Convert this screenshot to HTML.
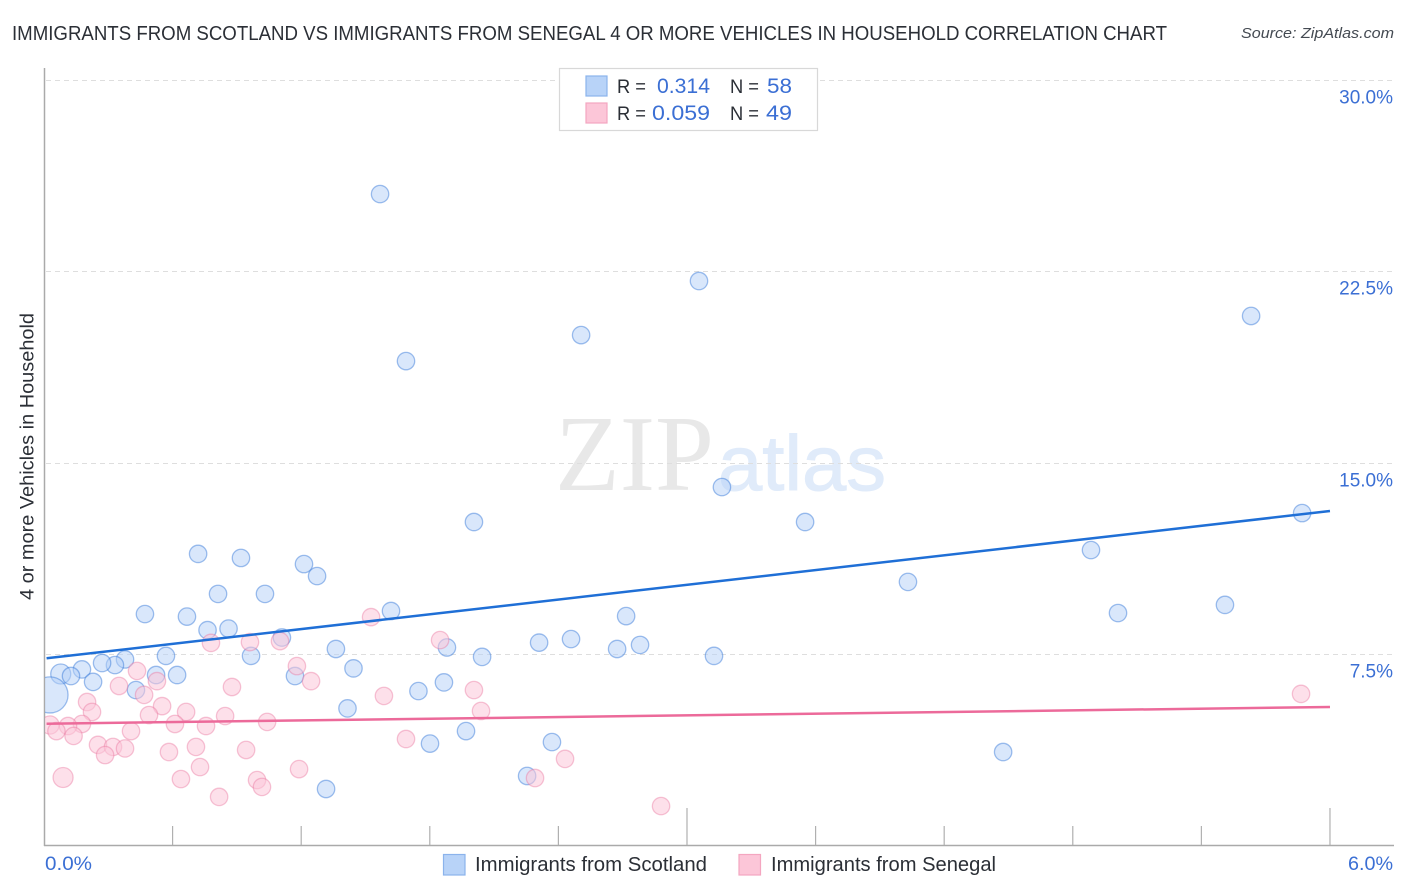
<!DOCTYPE html>
<html lang="en">
<head>
<meta charset="utf-8">
<title>Immigrants from Scotland vs Immigrants from Senegal correlation chart</title>
<style>
html,body{margin:0;padding:0;background:#fff;width:1406px;height:892px;overflow:hidden}
svg{display:block}
text{font-family:"Liberation Sans",Arial,sans-serif}
</style>
</head>
<body>
<svg id="chart" xmlns="http://www.w3.org/2000/svg" width="1406" height="892" viewBox="0 0 1406 892">
  <defs><clipPath id="plot-clip"><rect x="45" y="60" width="1349" height="785"/></clipPath></defs>
  <rect width="1406" height="892" fill="#ffffff"/>
  <text x="12" y="40" font-size="20" fill="#2b2f36" textLength="1155" lengthAdjust="spacingAndGlyphs">IMMIGRANTS FROM SCOTLAND VS IMMIGRANTS FROM SENEGAL 4 OR MORE VEHICLES IN HOUSEHOLD CORRELATION CHART</text>
  <text x="1394" y="38" font-size="15" font-style="italic" fill="#444a52" text-anchor="end" textLength="153" lengthAdjust="spacingAndGlyphs">Source: ZipAtlas.com</text>
  <g>
    <text x="555" y="490" font-size="108" fill="#e8e8e8" style="font-family:'Liberation Serif',serif" textLength="159" lengthAdjust="spacingAndGlyphs">ZIP</text>
    <text x="718" y="490" font-size="78" fill="#e0ebfa" stroke="#e0ebfa" stroke-width="1" textLength="168" lengthAdjust="spacingAndGlyphs">atlas</text>
  </g>
  <g id="grid"></g>
  <g id="axes"></g>
  <g id="points-scotland" clip-path="url(#plot-clip)"></g>
  <g id="points-senegal" clip-path="url(#plot-clip)"></g>
  <g id="trends"></g>
  <g id="ylabels"></g>
  <text x="45" y="870" font-size="19" fill="#3b6fd4" textLength="47" lengthAdjust="spacingAndGlyphs">0.0%</text>
  <text x="1393" y="870" font-size="19" fill="#3b6fd4" text-anchor="end" textLength="45" lengthAdjust="spacingAndGlyphs">6.0%</text>
  <text transform="translate(33.5,456.5) rotate(-90)" font-size="19" fill="#2b2f36" text-anchor="middle" textLength="287" lengthAdjust="spacingAndGlyphs">4 or more Vehicles in Household</text>

  <g>
    <rect x="559.5" y="68.5" width="258" height="62" fill="#ffffff" stroke="#d8d8d8" stroke-width="1.2"/>
    <rect x="586" y="76" width="21" height="20" fill="#b8d3f8" stroke="#8bb3ec" stroke-width="1.2"/>
    <rect x="586" y="103" width="21" height="20" fill="#fcc6d8" stroke="#f4a6c0" stroke-width="1.2"/>
    <text x="617" y="93" font-size="19.5" fill="#2b2f36" textLength="29" lengthAdjust="spacingAndGlyphs">R =</text>
    <text x="710" y="93" font-size="21.5" fill="#3b6fd4" text-anchor="end" textLength="53" lengthAdjust="spacingAndGlyphs">0.314</text>
    <text x="730" y="93" font-size="19.5" fill="#2b2f36" textLength="29" lengthAdjust="spacingAndGlyphs">N =</text>
    <text x="767" y="93" font-size="21.5" fill="#3b6fd4" textLength="25" lengthAdjust="spacingAndGlyphs">58</text>
    <text x="617" y="120" font-size="19.5" fill="#2b2f36" textLength="29" lengthAdjust="spacingAndGlyphs">R =</text>
    <text x="710" y="120" font-size="21.5" fill="#3b6fd4" text-anchor="end" textLength="58" lengthAdjust="spacingAndGlyphs">0.059</text>
    <text x="730" y="120" font-size="19.5" fill="#2b2f36" textLength="29" lengthAdjust="spacingAndGlyphs">N =</text>
    <text x="766" y="120" font-size="21.5" fill="#3b6fd4" textLength="26" lengthAdjust="spacingAndGlyphs">49</text>
  </g>

  <g>
    <rect x="443.5" y="854.5" width="21.5" height="20.5" fill="#b8d3f8" stroke="#8bb3ec" stroke-width="1.2"/>
    <text x="475" y="871" font-size="20" fill="#2b2f36" textLength="232" lengthAdjust="spacingAndGlyphs">Immigrants from Scotland</text>
  </g>
  <g>
    <rect x="739" y="854.5" width="21.5" height="20.5" fill="#fcc6d8" stroke="#f4a6c0" stroke-width="1.2"/>
    <text x="771" y="871" font-size="20" fill="#2b2f36" textLength="225" lengthAdjust="spacingAndGlyphs">Immigrants from Senegal</text>
  </g>
</svg>
<script>
const yTickValues = [7.5, 15, 22.5, 30];
const yTickLabels = ['7.5%', '15.0%', '22.5%', '30.0%'];
const xTickValues = [0.6, 1.2, 1.8, 2.4, 3.0, 3.6, 4.2, 4.8, 5.4, 6.0];
const xMajorTicks = [3.0, 6.0];

const scotlandX = [1.568,3.056,5.632,2.506,1.689,3.163,2.006,3.551,5.870,4.885,0.719,0.919,1.213,1.274,4.031,0.812,1.031,0.471,0.667,1.619,5.510,5.011,2.716,0.763,0.861,1.110,2.310,2.459,2.781,2.674,1.362,1.880,0.569,0.966,2.044,3.126,0.378,0.331,0.271,0.177,0.078,0.126,0.229,0.523,0.621,1.171,1.444,0.429,1.747,1.866,0.028,1.416,1.969,1.801,2.370,4.475,2.254,1.316];
const scotlandY = [25.55,22.14,20.77,20.02,19.00,14.06,12.69,12.69,13.04,11.59,11.44,11.28,11.04,10.57,10.34,9.87,9.87,9.08,8.98,9.20,9.44,9.12,9.00,8.45,8.51,8.16,7.96,8.10,7.87,7.71,7.71,7.77,7.44,7.44,7.40,7.44,7.30,7.08,7.16,6.91,6.73,6.65,6.42,6.69,6.69,6.65,6.95,6.10,6.06,6.40,5.91,5.38,4.49,4.00,4.06,3.67,2.73,2.22];
const scotlandWeight = [1,1,1,1,1,1,1,1,1,1,1,1,1,1,1,1,1,1,1,1,1,1,1,1,1,1,1,1,1,1,1,1,1,1,1,1,1,1,1,1,1.32,1,1,1,1,1,1,1,1,1,4.3,1,1,1,1,1,1,1];

const senegalX = [0.779,0.961,1.101,1.180,1.246,0.434,0.527,0.350,0.877,0.467,0.201,0.224,0.551,0.663,0.490,0.845,0.611,0.756,1.041,0.177,0.112,0.028,0.058,0.406,0.138,0.252,0.322,0.378,0.285,0.709,0.583,0.943,0.728,1.190,0.089,0.639,0.994,1.017,0.817,1.526,1.848,2.006,1.586,2.039,1.689,2.431,2.291,2.879,5.865];
const senegalY = [7.95,7.98,8.02,7.04,6.45,6.85,6.45,6.26,6.22,5.91,5.63,5.24,5.47,5.24,5.12,5.08,4.77,4.69,4.85,4.77,4.69,4.73,4.49,4.49,4.30,3.95,3.87,3.81,3.55,3.87,3.67,3.75,3.08,3.00,2.67,2.61,2.57,2.30,1.91,8.96,8.06,6.10,5.87,5.28,4.18,3.40,2.65,1.55,5.95];
const senegalWeight = [1,1,1,1,1,1,1,1,1,1,1,1,1,1,1,1,1,1,1,1,1,1.1,1,1,1,1,1,1,1,1,1,1,1,1,1.32,1,1,1,1,1,1,1,1,1,1,1,1,1,1];

const trendX = [0.012, 6.0];
const scotlandTrend = [7.345, 13.12];
const senegalTrend = [4.78, 5.435];

const NS = 'http://www.w3.org/2000/svg';
const PLOT = { x0: 44, xPerUnit: 214.33, y0: 845.6, yPerUnit: 25.5, baseR: 8.7 };
function xScale(v) { return PLOT.x0 + v * PLOT.xPerUnit; }
function yScale(v) { return PLOT.y0 - v * PLOT.yPerUnit; }
function radius(w) { return PLOT.baseR * Math.sqrt(w); }
function make(tag, attrs) {
  const el = document.createElementNS(NS, tag);
  for (const k in attrs) el.setAttribute(k, attrs[k]);
  return el;
}

const gridGroup = document.getElementById('grid');
yTickValues.forEach(function (v) {
  const line = make('line', { x1: 46, x2: 1394, y1: Math.floor(yScale(v)) + 0.5, y2: Math.floor(yScale(v)) + 0.5, stroke: '#dedede', 'stroke-width': 1, 'stroke-dasharray': '5 4' });
  
  
  gridGroup.appendChild(line);
});

const axesGroup = document.getElementById('axes');
const yAxisLine = make('line', { x1: 44.5, x2: 44.5, y1: 68, y2: 846, stroke: '#aaaaaa', 'stroke-width': 1.5 });


axesGroup.appendChild(yAxisLine);
const xAxisLine = make('line', { x1: 44, x2: 1394, y1: 845.5, y2: 845.5, stroke: '#aaaaaa', 'stroke-width': 1.5 });


axesGroup.appendChild(xAxisLine);
xTickValues.forEach(function (v) {
  const top = xMajorTicks.indexOf(v) >= 0 ? 808 : 826;
  const tick = make('line', { x1: xScale(v), x2: xScale(v), y1: top, y2: 845, stroke: '#b0b0b0', 'stroke-width': 1.2 });
  
  
  axesGroup.appendChild(tick);
});

const ylabelGroup = document.getElementById('ylabels');
yTickValues.forEach(function (v, i) {
  const label = make('text', { x: 1393, y: Math.floor(yScale(v)) + 23.5, 'font-size': 19, fill: '#3b6fd4', 'text-anchor': 'end' });
  
  
  label.textContent = yTickLabels[i];
  ylabelGroup.appendChild(label);
});

const scotlandGroup = document.getElementById('points-scotland');
scotlandX.forEach(function (v, i) {
  const dot = make('circle', { cx: xScale(v), cy: yScale(scotlandY[i]), r: radius(scotlandWeight[i]), fill: '#b4d0f7', 'fill-opacity': 0.5, stroke: '#2f74d8', 'stroke-opacity': 0.45, 'stroke-width': 1.3 });
  
  
  scotlandGroup.appendChild(dot);
});

const senegalGroup = document.getElementById('points-senegal');
senegalX.forEach(function (v, i) {
  const dot = make('circle', { cx: xScale(v), cy: yScale(senegalY[i]), r: radius(senegalWeight[i]), fill: '#fcc6d8', 'fill-opacity': 0.55, stroke: '#e8709c', 'stroke-opacity': 0.4, 'stroke-width': 1.3 });
  
  
  senegalGroup.appendChild(dot);
});

const trendGroup = document.getElementById('trends');
const scotlandLine = make('line', { x1: xScale(trendX[0]), x2: xScale(trendX[1]), y1: yScale(scotlandTrend[0]), y2: yScale(scotlandTrend[1]), stroke: '#1f6fd6', 'stroke-width': 2.5 });


trendGroup.appendChild(scotlandLine);
const senegalLine = make('line', { x1: xScale(trendX[0]), x2: xScale(trendX[1]), y1: yScale(senegalTrend[0]), y2: yScale(senegalTrend[1]), stroke: '#ec6a9a', 'stroke-width': 2.5 });


trendGroup.appendChild(senegalLine);
</script>
</body>
</html>
